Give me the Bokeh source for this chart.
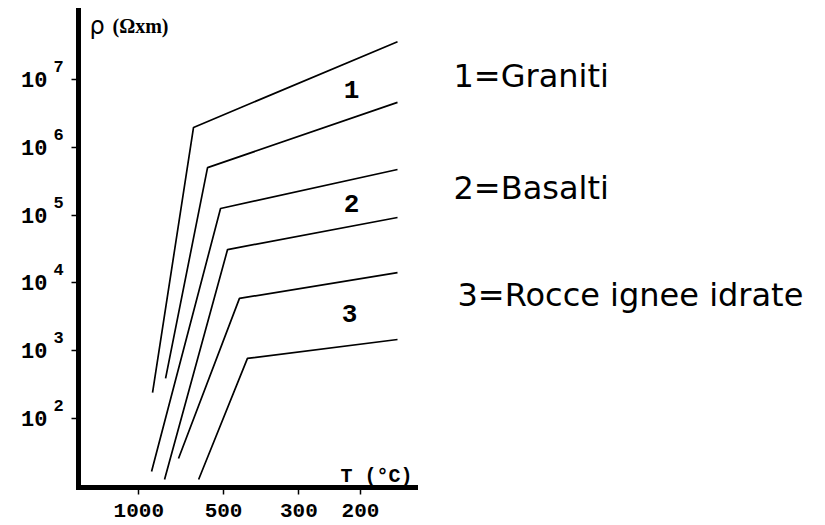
import numpy as np
from bokeh.plotting import figure
from bokeh.models import Range1d, FixedTicker, Label, CustomJSTickFormatter
from bokeh.embed import file_html
from bokeh.resources import INLINE

# ---------------- data ----------------
temp_ticks_c = [1000, 500, 300, 200]
temp_tick_labels = ["1000", "500", "300", "200"]
rho_ticks = [1e2, 1e3, 1e4, 1e5, 1e6, 1e7]
rho_tick_exponents = ["2", "3", "4", "5", "6", "7"]

# vertices of each curve: temperature (deg C) and resistivity (ohm*m)
granite_hi_t = [879, 625, 155]
granite_hi_rho = [240, 1.96e6, 3.6e7]
granite_lo_t = [784, 562, 155]
granite_lo_rho = [390, 5.0e5, 4.6e6]
basalt_hi_t = [887, 511, 155]
basalt_hi_rho = [16.5, 1.25e5, 4.7e5]
basalt_lo_t = [791, 486, 155]
basalt_lo_rho = [12.6, 3.1e4, 9.2e4]
hydrous_hi_t = [704, 447, 155]
hydrous_hi_rho = [25.7, 5.9e3, 1.42e4]
hydrous_lo_t = [601, 423, 155]
hydrous_lo_rho = [12.6, 770, 1460]

group_numbers = ["1", "2", "3"]
group_names = ["1=Graniti", "2=Basalti", "3=Rocce ignee idrate"]


def inv_t(t_c):
    """1000 / T(K): the x-axis is reciprocal absolute temperature"""
    return 1000.0 / (np.asarray(t_c, dtype=float) + 273.15)


# ---------------- layout (page pixels <-> data) ----------------
W, H = 825, 525
U0, U1 = 0.4242, 2.4434          # x extent of the drawn axis
LOG0, LOG1 = 0.982, 8.017        # log10 extent of the drawn axis
FL, FR, FT, FB = 78, 415, 10, 487  # axis extents in page px
KX = (U1 - U0) / (FR - FL)
PPD = (FB - FT) / (LOG1 - LOG0)
XL, XR = U0 - FL * KX, U0 + (W - FL) * KX
YB, YT = LOG0 - (H - FB) / PPD, LOG1 + FT / PPD


def px_u(px):
    return U0 + (px - FL) * KX


def py_rho(py):
    return 10 ** (LOG0 + (FB - py) / PPD)


p = figure(width=W, height=H,
           x_range=Range1d(XL, XR), y_range=Range1d(10 ** YB, 10 ** YT),
           y_axis_type="log", output_backend="svg", toolbar_location=None,
           min_border=0, min_border_left=0, min_border_right=0,
           min_border_top=0, min_border_bottom=0)
p.outline_line_color = None
p.grid.visible = False
p.title.visible = False
p.background_fill_color = "white"
p.border_fill_color = "white"

curves = [(granite_hi_t, granite_hi_rho), (granite_lo_t, granite_lo_rho),
          (basalt_hi_t, basalt_hi_rho), (basalt_lo_t, basalt_lo_rho),
          (hydrous_hi_t, hydrous_hi_rho), (hydrous_lo_t, hydrous_lo_rho)]
for t, r in curves:
    p.line(inv_t(t), r, line_color="black", line_width=1.7)

# ---- axes (placed inside the full-canvas frame) ----
for ax in (p.xaxis[0], p.yaxis[0]):
    ax.axis_line_width = 5
    ax.axis_line_color = "black"
    ax.axis_line_cap = "square"
    ax.major_tick_in = 0
    ax.major_tick_out = 7
    ax.major_tick_line_width = 1.5
    ax.major_tick_line_color = "black"
    ax.minor_tick_line_color = None
    ax.major_label_text_font = "Liberation Mono"
    ax.major_label_text_font_style = "bold"
    ax.major_label_text_color = "black"

p.xaxis.fixed_location = 10 ** LOG0
p.xaxis.bounds = (U0, U1)
p.yaxis.fixed_location = U0
p.yaxis.bounds = (10 ** LOG0, 10 ** LOG1)

xt = [float(v) for v in inv_t(temp_ticks_c)]
p.xaxis.ticker = FixedTicker(ticks=xt)
p.xaxis.formatter = CustomJSTickFormatter(args=dict(vals=xt, labels=temp_tick_labels), code="""
let best = 0;
for (let i = 0; i < vals.length; i++) {
  if (Math.abs(vals[i] - tick) < Math.abs(vals[best] - tick)) best = i;
}
return labels[best];
""")
p.xaxis.major_label_text_font_size = "21px"
p.xaxis.major_label_standoff = 9

p.yaxis.ticker = FixedTicker(ticks=rho_ticks)
p.yaxis.formatter = CustomJSTickFormatter(code="return '10';")
p.yaxis.major_label_text_font_size = "22px"
p.yaxis.major_label_standoff = 24

for rt, ex in zip(rho_ticks, rho_tick_exponents):
    p.add_layout(Label(x=px_u(53), y=rt * 10 ** (13 / PPD), text=ex,
                       text_font="Liberation Mono", text_font_style="bold",
                       text_font_size="17px", text_align="left",
                       text_baseline="alphabetic", text_color="black"))

# axis titles
p.add_layout(Label(x=px_u(89), y=py_rho(25), text="ρ", text_font="DejaVu Sans",
                   text_font_size="24px", text_align="left", text_baseline="alphabetic",
                   text_color="black"))
p.add_layout(Label(x=px_u(112), y=py_rho(25), text="(Ωxm)", text_font="Liberation Serif",
                   text_font_style="bold", text_font_size="20px", text_align="left",
                   text_baseline="alphabetic", text_color="black"))
p.add_layout(Label(x=px_u(340), y=py_rho(476), text="T (°C)", text_font="Liberation Mono",
                   text_font_style="bold", text_font_size="20px", text_align="left",
                   text_baseline="alphabetic", text_color="black"))

# group numbers on the curves
for num, (xp, yp) in zip(group_numbers, [(351, 89), (351, 203), (349, 313)]):
    p.add_layout(Label(x=px_u(xp), y=py_rho(yp), text=num, text_font="Liberation Mono",
                       text_font_style="bold", text_font_size="26px", text_align="center",
                       text_baseline="alphabetic", text_color="black"))

# legend texts on the right
for name, (xp, yp) in zip(group_names, [(453, 75), (453, 187), (457, 294)]):
    p.add_layout(Label(x=px_u(xp), y=py_rho(yp), text=name, text_font="DejaVu Sans",
                       text_font_size="32px", text_align="left", text_baseline="alphabetic",
                       text_color="black"))

open("out.html", "w").write(file_html(p, INLINE))
